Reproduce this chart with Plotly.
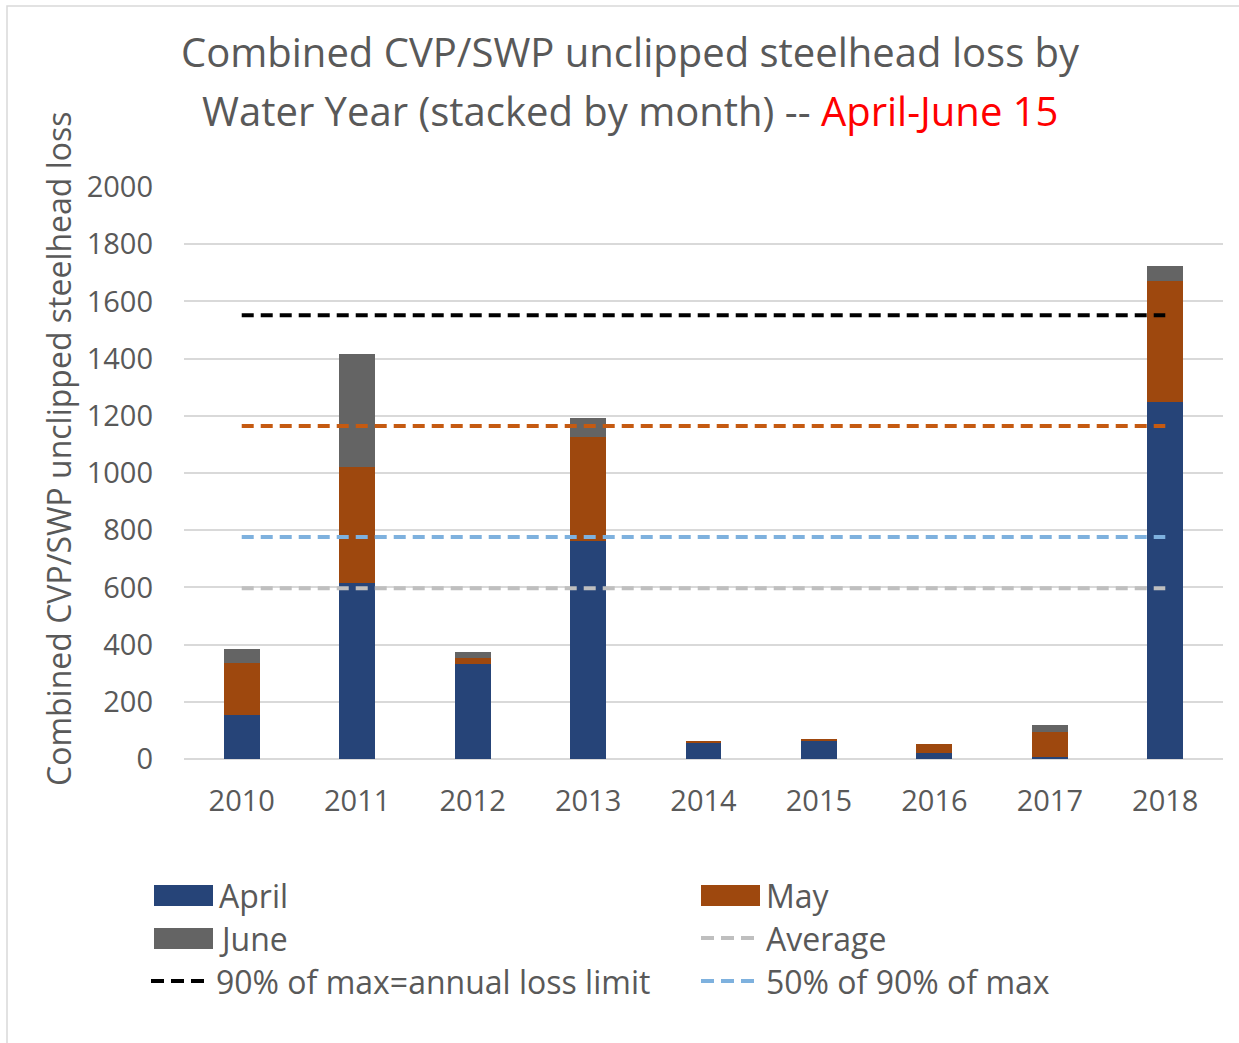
import plotly.graph_objects as go

# Water years and monthly unclipped steelhead loss (combined CVP/SWP)
years = ["2010", "2011", "2012", "2013", "2014", "2015", "2016", "2017", "2018"]
april = [154, 614, 331, 762, 57, 63, 20, 8, 1247]
may = [183, 408, 23, 363, 6, 7, 31, 85, 426]
june = [48, 395, 19, 69, 0, 0, 0, 25, 50]

# Reference levels
average_loss = 597
annual_limit = 1552          # 90% of max = annual loss limit
limit_75 = 1164              # 75% of the annual limit
limit_50 = 776               # 50% of 90% of max

y_ticks = [0, 200, 400, 600, 800, 1000, 1200, 1400, 1600, 1800, 2000]

W, H = 1239, 1043
ML, MR, MT, MB = 184, 16, 187, 284
PW, PH = W - ML - MR, H - MT - MB

TEXT = "#595959"
FONT = "Open Sans"
C_APR, C_MAY, C_JUN = "#264478", "#9E480E", "#646464"
C_AVG, C_LIM, C_75, C_50 = "#BFBFBF", "#000000", "#C55A11", "#7EB1DE"


def px(x):
    return (x - ML) / PW


def py(y):
    return (H - MB - y) / PH


fig = go.Figure()
for name, vals, col in [("April", april, C_APR), ("May", may, C_MAY), ("June", june, C_JUN)]:
    fig.add_trace(go.Bar(x=years, y=vals, name=name, marker=dict(color=col, line=dict(width=0)),
                         width=0.31, showlegend=False))

for name, val, col in [("Average", average_loss, C_AVG), ("50% of 90% of max", limit_50, C_50),
                       ("75% of limit", limit_75, C_75), ("90% of max=annual loss limit", annual_limit, C_LIM)]:
    fig.add_trace(go.Scatter(x=years, y=[val] * len(years), mode="lines", name=name,
                             line=dict(color=col, width=4, dash="12px,7px"), showlegend=False))

shapes = []
annotations = []

# Chart frame
shapes.append(dict(type="rect", xref="paper", yref="paper", x0=px(7), x1=px(1245), y0=py(1050), y1=py(6),
                   line=dict(color="#D9D9D9", width=1.5), fillcolor="rgba(0,0,0,0)", layer="below"))

# Title (two lines)
annotations.append(dict(text="Combined CVP/SWP unclipped steelhead loss by", xref="paper", yref="paper",
                        x=px(630), y=py(52), xanchor="center", yanchor="middle", showarrow=False,
                        font=dict(family=FONT, size=40, color=TEXT)))
annotations.append(dict(text="Water Year (stacked by month) -- <span style='color:#FF0000'>April-June 15</span>",
                        xref="paper", yref="paper", x=px(630), y=py(110), xanchor="center", yanchor="middle",
                        showarrow=False, font=dict(family=FONT, size=40, color=TEXT)))

# Y axis title
annotations.append(dict(text="Combined CVP/SWP unclipped steelhead loss", xref="paper", yref="paper",
                        x=px(58), y=py(449), xanchor="center", yanchor="middle", textangle=-90,
                        showarrow=False, font=dict(family=FONT, size=32, color=TEXT)))

# Legend
legend_items = [
    ("April", "box", C_APR, 154, 895),
    ("May", "box", C_MAY, 701, 895),
    ("June", "box", C_JUN, 154, 938),
    ("Average", "dash", C_AVG, 701, 938),
    ("90% of max=annual loss limit", "dash", C_LIM, 151, 981),
    ("50% of 90% of max", "dash", C_50, 701, 981),
]
for label, kind, col, x0, yc in legend_items:
    if kind == "box":
        shapes.append(dict(type="rect", xref="paper", yref="paper", x0=px(x0), x1=px(x0 + 59),
                           y0=py(yc + 11), y1=py(yc - 10), fillcolor=col, line=dict(width=0)))
    else:
        shapes.append(dict(type="line", xref="paper", yref="paper", x0=px(x0), x1=px(x0 + 58),
                           y0=py(yc), y1=py(yc), line=dict(color=col, width=4, dash="13px,7px")))
    annotations.append(dict(text=label, xref="paper", yref="paper", x=px(x0 + 63), y=py(yc),
                            xanchor="left", yanchor="middle", showarrow=False,
                            font=dict(family=FONT, size=32, color=TEXT)))

fig.update_layout(
    width=W, height=H,
    margin=dict(l=ML, r=MR, t=MT, b=MB, autoexpand=False),
    paper_bgcolor="white", plot_bgcolor="white",
    barmode="stack", bargap=0.69,
    showlegend=False,
    font=dict(family=FONT, color=TEXT),
    shapes=shapes, annotations=annotations,
    xaxis=dict(type="category", showgrid=False, showline=False, zeroline=False, ticks="",
               tickfont=dict(family=FONT, size=29, color=TEXT), ticklabelstandoff=22),
    yaxis=dict(range=[0, 2000], tickvals=y_ticks, showgrid=True, gridcolor="#D9D9D9", gridwidth=1.5,
               zeroline=True, zerolinecolor="#D9D9D9", zerolinewidth=1.5, showline=False, ticks="",
               tickfont=dict(family=FONT, size=29, color=TEXT), ticklabelstandoff=30),
)

fig.write_html("out.html")
